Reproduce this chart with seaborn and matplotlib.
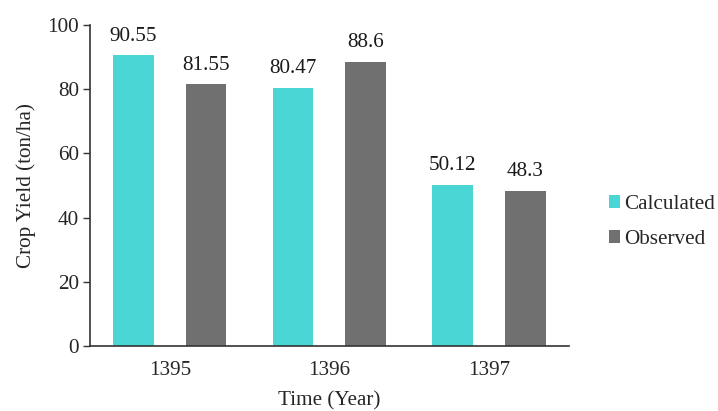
import matplotlib
matplotlib.use('Agg')
import matplotlib.pyplot as plt
import seaborn as sns
import pandas as pd
from matplotlib.patches import Patch

# Data
years = ['1395', '1396', '1397']
calculated = [90.55, 80.47, 50.12]
observed = [81.55, 88.6, 48.3]
series_names = ['Calculated', 'Observed']
colors = ['#4AD6D4', '#707070']

df = pd.DataFrame({
    'Year': years * 2,
    'Yield': calculated + observed,
    'Series': [series_names[0]] * 3 + [series_names[1]] * 3,
})

sns.set_style('white')
plt.rcParams['font.family'] = ['Liberation Serif', 'DejaVu Serif']
FS = 15.2

fig = plt.figure(figsize=(7.18, 4.11), dpi=100)
ax = fig.add_axes([0.1253, 0.158, 0.667, 0.781])

sns.barplot(data=df, x='Year', y='Yield', hue='Series', palette=colors,
            width=0.91, gap=0.44, ax=ax, legend=False, saturation=1,
            edgecolor='none', errorbar=None)

for cont in ax.containers:
    ax.bar_label(cont, labels=[f'{v:g}' for v in cont.datavalues],
                 padding=7, fontsize=FS, color='#1a1a1a')

ax.set_ylim(0, 100)
ax.set_yticks(range(0, 101, 20))
ax.set_xlim(-0.5, 2.5)
ax.set_xticks(range(len(years)))
ax.set_xticklabels(years)
ax.set_xticks([-0.5, 0.5, 1.5, 2.5], minor=True)
ax.tick_params(axis='x', which='major', length=0, pad=11, labelsize=FS)
ax.tick_params(axis='x', which='minor', length=5, width=1, direction='out', color='#333333')
ax.tick_params(axis='y', which='major', length=5, width=1, direction='out', left=True,
               labelsize=FS, color='#333333', pad=3)

for s in ['top', 'right']:
    ax.spines[s].set_visible(False)
for s in ['left', 'bottom']:
    ax.spines[s].set_color('#333333')
    ax.spines[s].set_linewidth(1.2)

ax.set_ylabel('Crop Yield (ton/ha)', fontsize=FS, labelpad=8)
ax.set_xlabel('Time (Year)', fontsize=FS, labelpad=8)

handles = [Patch(facecolor=c, edgecolor='none') for c in colors]
fig.legend(handles, series_names, loc='center left', bbox_to_anchor=(0.836, 0.46),
           frameon=False, fontsize=FS, handlelength=0.55, handleheight=0.6,
           handletextpad=0.2, labelspacing=0.75, borderaxespad=0)

fig.savefig('out.png', dpi=100)
